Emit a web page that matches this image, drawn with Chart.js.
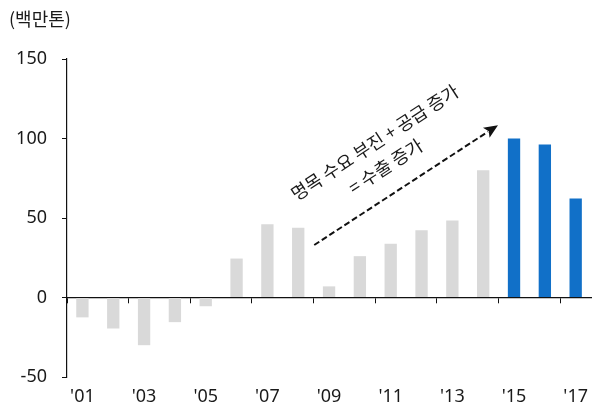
<!DOCTYPE html>
<html>
<head>
<meta charset="utf-8">
<script src="https://cdn.jsdelivr.net/npm/chart.js@4/dist/chart.umd.min.js"></script>
<style>
  html, body { margin: 0; padding: 0; background: #ffffff; }
  #wrap { width: 597px; height: 408px; }
</style>
</head>
<body>
<div id="wrap"><canvas id="chart" width="597" height="408"></canvas></div>
<script>
// Net exports by year (million tonnes)
const years = ["'01", "'02", "'03", "'04", "'05", "'06", "'07", "'08", "'09",
               "'10", "'11", "'12", "'13", "'14", "'15", "'16", "'17"];
const netExports = [-12.5, -19.5, -30, -15.5, -5.5, 24.5, 46, 43.8, 7,
                    26, 33.8, 42.3, 48.4, 80, 100, 96.2, 62.3];
const highlightFrom = "'15";
const yMin = -50, yMax = 150, yStep = 50;
const unitLabel = '(백만톤)';
const noteLines = ['명목 수요 부진 + 공급 증가', '= 수출 증가'];
// Trend arrow, in (category index, value) coordinates
const arrowStart = [7.52, 33];
const arrowEnd = [13.48, 108.4];

const NUM_FONT = '"Noto Sans", "Noto Sans CJK KR", sans-serif';
const KR_FONT = '"Noto Sans CJK KR", "Noto Sans", sans-serif';
const INK = '#1a1a1a';
const GREY = '#d9d9d9';
const BLUE = '#1170c8';
const hiIndex = years.indexOf(highlightFrom);

const notePlugin = {
  id: 'note',
  afterDraw(chart) {
    const { ctx, scales } = chart;
    const sx = scales.x, sy = scales.y;
    ctx.save();
    ctx.fillStyle = INK;
    ctx.font = '18px ' + KR_FONT;
    ctx.textAlign = 'left';
    ctx.textBaseline = 'middle';
    ctx.fillText(unitLabel, 9, 19);

    const x1 = sx.getPixelForValue(arrowStart[0]), y1 = sy.getPixelForValue(arrowStart[1]);
    const x2 = sx.getPixelForValue(arrowEnd[0]), y2 = sy.getPixelForValue(arrowEnd[1]);
    const ang = Math.atan2(y2 - y1, x2 - x1);
    const len = Math.hypot(x2 - x1, y2 - y1);
    const head = 14;

    ctx.translate(x1, y1);
    ctx.rotate(ang);
    ctx.strokeStyle = '#111';
    ctx.lineWidth = 2;
    ctx.setLineDash([6, 3]);
    ctx.beginPath();
    ctx.moveTo(0, 0);
    ctx.lineTo(len - head + 2, 0);
    ctx.stroke();
    ctx.setLineDash([]);
    ctx.fillStyle = '#111';
    ctx.beginPath();
    ctx.moveTo(len, 0);
    ctx.lineTo(len - head, -6);
    ctx.lineTo(len - head + 3, 0);
    ctx.lineTo(len - head, 6);
    ctx.closePath();
    ctx.fill();

    ctx.fillStyle = INK;
    ctx.font = '18px ' + KR_FONT;
    ctx.textAlign = 'center';
    ctx.textBaseline = 'middle';
    const mid = len / 2 - 3;
    ctx.fillText(noteLines[0], mid, -53);
    ctx.fillText(noteLines[1], mid - 4, -27);
    ctx.restore();
  }
};

new Chart(document.getElementById('chart'), {
  type: 'bar',
  data: {
    labels: years,
    datasets: [{
      data: netExports,
      backgroundColor: (c) => (c.dataIndex >= hiIndex ? BLUE : GREY),
      barPercentage: 0.4,
      categoryPercentage: 1
    }]
  },
  options: {
    responsive: false,
    animation: false,
    events: [],
    layout: { padding: { top: 59, left: 0, right: -1, bottom: 0 } },
    plugins: { legend: { display: false }, tooltip: { enabled: false }, title: { display: false } },
    scales: {
      x: {
        type: 'category',
        offset: true,
        grid: { display: false, drawTicks: false },
        border: { display: false },
        ticks: {
          autoSkip: false,
          maxRotation: 0,
          padding: 9,
          color: INK,
          font: { family: NUM_FONT, size: 18 },
          callback: (v, i) => (i % 2 === 0 ? years[i] : '')
        },
        afterFit: (s) => { s.height = 31; }
      },
      x0: {
        type: 'category',
        position: { y: 0 },
        offset: true,
        z: 1,
        grid: {
          offset: true,
          drawOnChartArea: false,
          drawTicks: true,
          tickLength: 5,
          tickWidth: 1,
          tickColor: (c) => (typeof c.index === 'number' && c.index % 2 === 0 ? '#111' : 'rgba(0,0,0,0)')
        },
        border: { display: true, color: '#111', width: 1.3 },
        ticks: { display: false }
      },
      y: {
        min: yMin,
        max: yMax,
        grid: { drawOnChartArea: false, drawTicks: true, tickLength: 5, tickColor: '#111' },
        border: { display: true, color: '#111', width: 1.2 },
        ticks: {
          stepSize: yStep,
          padding: 15,
          color: INK,
          font: { family: NUM_FONT, size: 18 }
        },
        afterFit: (s) => { s.width = 67; }
      }
    }
  },
  plugins: [notePlugin]
});
</script>
</body>
</html>
